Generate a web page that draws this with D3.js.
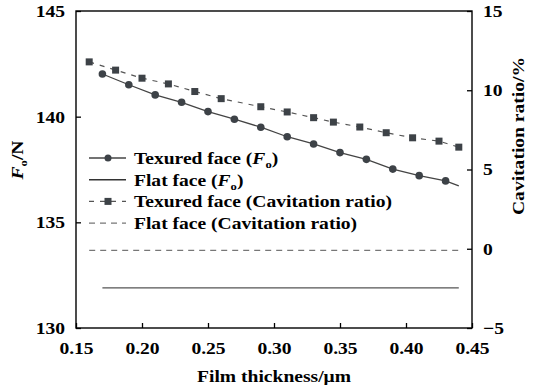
<!DOCTYPE html>
<html>
<head>
<meta charset="utf-8">
<script src="https://cdn.jsdelivr.net/npm/d3@7"></script>
</head>
<body style="margin:0;background:#fff">
<svg width="539" height="385"></svg>
<script>
// thickness (um) for each series
const texFoX = [0.17,0.19,0.21,0.23,0.25,0.27,0.29,0.31,0.33,0.35,0.37,0.39,0.41,0.43,0.44]
const texFo = [142.02,141.51,141.03,140.68,140.24,139.88,139.50,139.05,138.71,138.30,137.98,137.52,137.21,136.96,136.73]
const texFoMarked = 14   // last point has no marker

const texCavX = [0.16,0.18,0.20,0.22,0.24,0.26,0.29,0.31,0.33,0.345,0.365,0.385,0.405,0.425,0.44]
const texCav = [11.79,11.27,10.76,10.40,9.92,9.47,8.96,8.63,8.27,7.99,7.68,7.32,7.00,6.79,6.41]

const flatFoX = [0.17,0.44]
const flatFo = [131.9,131.9]
const flatCavX = [0.16,0.44]
const flatCav = [-0.1,-0.1]

const xTicks = [0.15,0.20,0.25,0.30,0.35,0.40,0.45]
const yLeftTicks = [130,135,140,145]
const yRightTicks = [-5,0,5,10,15]

const legendLabels = ['Texured face (', 'Flat face (', 'Texured face (Cavitation ratio)', 'Flat face (Cavitation ratio)']

const FONT = 'Liberation Serif'
const STRETCH = 1.15   // the source type is a bit wider than Times

const svg = d3.select('svg'),
  margin = {top:11,right:67,bottom:57,left:76},
  width = svg.attr('width') - margin.left - margin.right,
  height = svg.attr('height') - margin.top - margin.bottom

const g = svg.append('g')
  .attr('transform',`translate(${margin.left},${margin.top})`)

const x = d3.scaleLinear().domain([0.15,0.45]).range([0,width])
const yL = d3.scaleLinear().domain([130,145]).range([height,0])
const yR = d3.scaleLinear().domain([-5,15]).range([height,0])

const fmt = d3.format('.2f')
const axisFont = a => {
  a.attr('font-family',FONT).attr('font-size',17).attr('font-weight','bold')
  a.select('.domain').remove()
  a.selectAll('line').attr('stroke','#000').attr('stroke-width',1.3)
  a.selectAll('text').attr('fill','#000')
}

g.append('g')
  .attr('transform',`translate(0,${height})`)
  .call(d3.axisBottom(x).tickValues(xTicks).tickFormat(fmt).tickSizeInner(-5).tickSizeOuter(0).tickPadding(14))
  .call(axisFont)

g.append('g')
  .call(d3.axisLeft(yL).tickValues(yLeftTicks).tickSizeInner(-5).tickSizeOuter(0).tickPadding(11))
  .call(axisFont)

g.append('g')
  .attr('transform',`translate(${width},0)`)
  .call(d3.axisRight(yR).tickValues(yRightTicks).tickFormat(d => d < 0 ? '\u2212' + Math.abs(d) : d).tickSizeInner(-5).tickSizeOuter(0).tickPadding(11))
  .call(axisFont)

g.append('rect')
  .attr('width',width).attr('height',height)
  .attr('fill','none').attr('stroke','#000').attr('stroke-width',1.4)

const lineL = d3.line().x(d => x(d[0])).y(d => yL(d[1]))
const lineR = d3.line().x(d => x(d[0])).y(d => yR(d[1]))

const zip = (a,b) => a.map((v,i) => [v,b[i]])

// flat face lines
g.append('path').datum(zip(flatFoX,flatFo))
  .attr('d',lineL).attr('fill','none').attr('stroke','#555').attr('stroke-width',1.4)
g.append('path').datum(zip(flatCavX,flatCav))
  .attr('d',lineR).attr('fill','none').attr('stroke','#777').attr('stroke-width',1.2)
  .attr('stroke-dasharray','6,5')

// textured cavitation
const cavData = zip(texCavX,texCav)
g.append('path').datum(cavData)
  .attr('d',lineR).attr('fill','none').attr('stroke','#555').attr('stroke-width',1.2)
  .attr('stroke-dasharray','5,6')
g.selectAll('.sq').data(cavData).enter().append('rect')
  .attr('class','sq')
  .attr('x',d => x(d[0]) - 3.5).attr('y',d => yR(d[1]) - 3.5)
  .attr('width',7).attr('height',7).attr('fill','#3d4247')

// textured Fo
const foData = zip(texFoX,texFo)
g.append('path').datum(foData)
  .attr('d',lineL).attr('fill','none').attr('stroke','#444').attr('stroke-width',1.3)
g.selectAll('.dot').data(foData.slice(0,texFoMarked)).enter().append('circle')
  .attr('class','dot')
  .attr('cx',d => x(d[0])).attr('cy',d => yL(d[1]))
  .attr('r',3.8).attr('fill','#3d4247')

// legend
const legend = g.append('g').attr('transform','translate(13,147)')
  .attr('font-family',FONT).attr('font-weight','bold').attr('font-size',17)
legendLabels.forEach((lab,i) => {
  const row = legend.append('g').attr('transform',`translate(0,${i*21.7})`)
  const ln = row.append('line').attr('x1',0).attr('x2',37).attr('y1',0).attr('y2',0)
  if (i === 0) {
    ln.attr('stroke','#444').attr('stroke-width',1.4)
    row.append('circle').attr('cx',19).attr('cy',0).attr('r',3.5).attr('fill','#3d4247')
  } else if (i === 1) {
    ln.attr('stroke','#333').attr('stroke-width',1.6)
  } else if (i === 2) {
    ln.attr('stroke','#555').attr('stroke-width',1.2).attr('stroke-dasharray','5,6')
    row.append('rect').attr('x',15.5).attr('y',-3.5).attr('width',7).attr('height',7).attr('fill','#3d4247')
  } else {
    ln.attr('stroke','#777').attr('stroke-width',1.2).attr('stroke-dasharray','6,5')
  }
  const t = row.append('text').attr('x',45).attr('y',6).attr('fill','#000')
  t.append('tspan').text(lab)
  if (i < 2) {
    t.append('tspan').attr('font-style','italic').text('F')
    t.append('tspan').attr('font-size',11).attr('dy',4).text('o')
    t.append('tspan').attr('dy',-4).text(')')
  }
})

// axis titles
const titles = svg.append('g')
  .attr('font-family',FONT).attr('font-weight','bold').attr('font-size',17)

titles.append('text')
  .attr('transform',`translate(${margin.left + width/2},382)`)
  .attr('text-anchor','middle')
  .text('Film thickness/\u03bcm')

const yt = titles.append('text')
  .attr('transform','translate(23,160) rotate(-90)')
  .attr('text-anchor','middle')
yt.append('tspan').attr('font-style','italic').text('F')
yt.append('tspan').attr('font-size',11).attr('dy',4).text('o')
yt.append('tspan').attr('dy',-4).text('/N')

titles.append('text')
  .attr('transform','translate(524,136) rotate(-90)')
  .attr('text-anchor','middle')
  .text('Cavitation ratio/%')

// widen every label to match the wider source typeface
svg.selectAll('text').each(function(){
  const w = this.getComputedTextLength()
  d3.select(this).attr('textLength',w*STRETCH).attr('lengthAdjust','spacingAndGlyphs')
})
</script>
</body>
</html>
